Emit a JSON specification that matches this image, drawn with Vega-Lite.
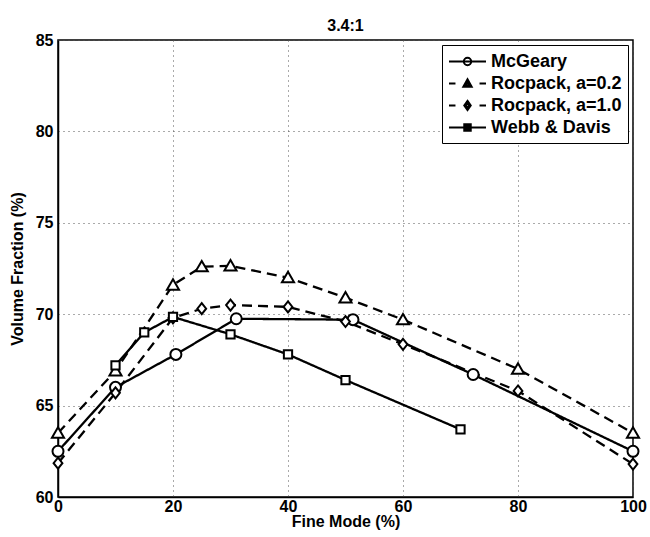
{
  "$schema": "https://vega.github.io/schema/vega-lite/v6.json",
  "autosize": {"type": "none"},
  "width": 575,
  "height": 457,
  "padding": {"left": 58, "top": 40, "right": 17, "bottom": 40},
  "background": "white",
  "title": {"text": "3.4:1", "fontSize": 16, "font": "Liberation Sans", "fontWeight": "bold", "color": "black", "offset": -2},
  "config": {
    "view": {"stroke": "black", "strokeWidth": 1.5},
    "axis": {
      "labelFont": "Liberation Sans", "labelFontSize": 16, "labelFontWeight": "bold", "labelColor": "black",
      "titleFont": "Liberation Sans", "titleFontSize": 16, "titleFontWeight": "bold", "titleColor": "black",
      "domainColor": "black", "domainWidth": 1.5,
      "grid": true, "gridColor": "#555555", "gridDash": [1, 4], "gridWidth": 1, "gridOpacity": 1,
      "ticks": false, "labelFlush": false
    }
  },
  "data": {"values": [
    {"series": "McGeary", "x": 0, "y": 62.5},
    {"series": "McGeary", "x": 10, "y": 66.0},
    {"series": "McGeary", "x": 20.5, "y": 67.8},
    {"series": "McGeary", "x": 31, "y": 69.75},
    {"series": "McGeary", "x": 51.3, "y": 69.7},
    {"series": "McGeary", "x": 72.2, "y": 66.7},
    {"series": "McGeary", "x": 100, "y": 62.5},
    {"series": "Rocpack, a=0.2", "x": 0, "y": 63.5},
    {"series": "Rocpack, a=0.2", "x": 10, "y": 66.9},
    {"series": "Rocpack, a=0.2", "x": 20, "y": 71.6},
    {"series": "Rocpack, a=0.2", "x": 25, "y": 72.6},
    {"series": "Rocpack, a=0.2", "x": 30, "y": 72.65},
    {"series": "Rocpack, a=0.2", "x": 40, "y": 72.0},
    {"series": "Rocpack, a=0.2", "x": 50, "y": 70.9},
    {"series": "Rocpack, a=0.2", "x": 60, "y": 69.7},
    {"series": "Rocpack, a=0.2", "x": 80, "y": 67.0},
    {"series": "Rocpack, a=0.2", "x": 100, "y": 63.5},
    {"series": "Rocpack, a=1.0", "x": 0, "y": 61.85},
    {"series": "Rocpack, a=1.0", "x": 10, "y": 65.7},
    {"series": "Rocpack, a=1.0", "x": 20, "y": 69.8},
    {"series": "Rocpack, a=1.0", "x": 25, "y": 70.3},
    {"series": "Rocpack, a=1.0", "x": 30, "y": 70.5},
    {"series": "Rocpack, a=1.0", "x": 40, "y": 70.4},
    {"series": "Rocpack, a=1.0", "x": 50, "y": 69.6},
    {"series": "Rocpack, a=1.0", "x": 60, "y": 68.35},
    {"series": "Rocpack, a=1.0", "x": 80, "y": 65.8},
    {"series": "Rocpack, a=1.0", "x": 100, "y": 61.8},
    {"series": "Webb & Davis", "x": 10, "y": 67.2},
    {"series": "Webb & Davis", "x": 15, "y": 69.0},
    {"series": "Webb & Davis", "x": 20, "y": 69.85},
    {"series": "Webb & Davis", "x": 30, "y": 68.9},
    {"series": "Webb & Davis", "x": 40, "y": 67.8},
    {"series": "Webb & Davis", "x": 50, "y": 66.4},
    {"series": "Webb & Davis", "x": 70, "y": 63.7}
  ]},
  "encoding": {
    "x": {"field": "x", "type": "quantitative", "title": "Fine Mode (%)",
      "scale": {"domain": [0, 100], "nice": false},
      "axis": {"values": [0, 20, 40, 60, 80, 100], "labelPadding": 1, "titlePadding": -1}},
    "y": {"field": "y", "type": "quantitative", "title": "Volume Fraction (%)",
      "scale": {"domain": [60, 85], "nice": false, "zero": false},
      "axis": {"values": [60, 65, 70, 75, 80, 85], "labelPadding": 5, "titlePadding": 10}}
  },
  "layer": [
    {
      "mark": {"type": "line", "color": "black", "strokeWidth": 2.3},
      "encoding": {
        "strokeDash": {"field": "series", "type": "nominal", "legend": null,
          "scale": {"domain": ["McGeary", "Rocpack, a=0.2", "Rocpack, a=1.0", "Webb & Davis"],
            "range": [[1, 0], [10, 6], [10, 6], [1, 0]]}}
      }
    },
    {
      "mark": {"type": "point", "filled": false, "fill": "white", "fillOpacity": 1, "stroke": "black", "strokeWidth": 2, "size": 121, "opacity": 1},
      "encoding": {
        "shape": {"field": "series", "type": "nominal", "legend": null,
          "scale": {"domain": ["McGeary", "Rocpack, a=0.2", "Rocpack, a=1.0", "Webb & Davis"],
            "range": ["circle", "M0,-1.05L1.1,0.85L-1.1,0.85Z", "M0,-1L0.8,0L0,1L-0.8,0Z", "M-0.75,-0.75L0.75,-0.75L0.75,0.75L-0.75,0.75Z"]}}
      }
    },
    {
      "mark": {"type": "point", "filled": false, "stroke": "black", "strokeWidth": 2, "opacity": 0},
      "encoding": {
        "shape": {"field": "series", "type": "nominal",
          "scale": {"domain": ["McGeary", "Rocpack, a=0.2", "Rocpack, a=1.0", "Webb & Davis"],
            "range": [
              "M-2,0L2,0M0.4,0A0.4,0.4,0,1,1,-0.4,0A0.4,0.4,0,1,1,0.4,0Z",
              "M-2,0L-1.3,0M1.3,0L2,0M0,-0.45L0.45,0.35L-0.45,0.35ZM0,-0.2L0.2,0.2L-0.2,0.2Z",
              "M-2,0L-1.3,0M1.3,0L2,0M0,-0.5L0.35,0L0,0.5L-0.35,0ZM0,-0.25L0.17,0L0,0.25L-0.17,0Z",
              "M-2,0L2,0M-0.35,-0.35L0.35,-0.35L0.35,0.35L-0.35,0.35ZM-0.15,-0.15L0.15,-0.15L0.15,0.15L-0.15,0.15Z"
            ]},
          "legend": {
            "title": null, "orient": "top-right", "offset": 5,
            "symbolSize": 342, "symbolStrokeWidth": 2, "symbolStrokeColor": "black", "symbolFillColor": "transparent", "symbolOpacity": 1,
            "symbolOffset": 9, "labelOffset": 13,
            "labelFont": "Liberation Sans", "labelFontSize": 18, "labelFontWeight": "bold", "labelColor": "black",
            "padding": 6, "rowPadding": 2, "strokeColor": "black", "fillColor": "white", "cornerRadius": 0, "labelLimit": 300
          }
        }
      }
    }
  ],
  "resolve": {"scale": {"shape": "independent"}, "legend": {"shape": "independent"}}
}
